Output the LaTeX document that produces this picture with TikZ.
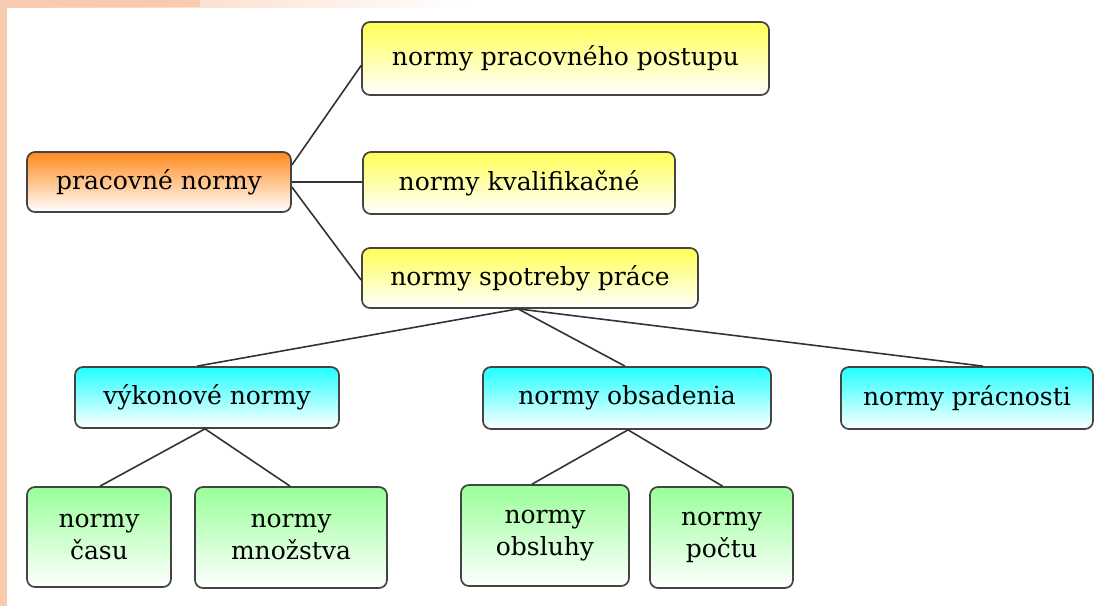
\documentclass[tikz,border=0pt]{standalone}
\usepackage{fontspec}
\setmainfont{DejaVu Serif}
\usetikzlibrary{calc}
\definecolor{peach}{HTML}{F8CBAE}
\definecolor{cOrange}{HTML}{FF8A1C}
\definecolor{cYellow}{HTML}{FFFF55}
\definecolor{cCyan}{HTML}{22FFFF}
\definecolor{cGreen}{HTML}{99FF99}
\definecolor{edge}{HTML}{444444}
\tikzset{
  box/.style={rectangle, rounded corners=8pt, draw=edge, line width=1.7pt,
    bottom color=white, inner sep=0pt, align=center,
    font=\fontsize{25}{32}\selectfont},
  orangebox/.style={box, top color=cOrange},
  yellowbox/.style={box, top color=cYellow},
  cyanbox/.style={box, top color=cCyan},
  greenbox/.style={box, top color=cGreen},
  link/.style={draw=black!80, line width=1.6pt}
}
\begin{document}
\begin{tikzpicture}[x=1pt,y=-1pt]
\useasboundingbox (0,0) rectangle (1095,606);
% background frame
\fill[peach] (0,0) rectangle (7,606);
\shade[left color=peach, right color=white] (0,0) rectangle (470,7);
\fill[peach] (0,0) rectangle (200,7);

\node[orangebox, minimum width=264pt, minimum height=60pt] (pn) at (159,182) {pracovné normy};
\node[yellowbox, minimum width=407pt, minimum height=73pt] (pp) at (565.5,58.5) {normy pracovného postupu};
\node[yellowbox, minimum width=312pt, minimum height=62pt] (kv) at (519,183) {normy kvalifikačné};
\node[yellowbox, minimum width=336pt, minimum height=60pt] (sp) at (530,278) {normy spotreby práce};

\node[cyanbox, minimum width=264pt, minimum height=61pt] (vk) at (207,397.5) {výkonové normy};
\node[cyanbox, minimum width=288pt, minimum height=62pt] (ob) at (627,398) {normy obsadenia};
\node[cyanbox, minimum width=252pt, minimum height=62pt] (pr) at (967,398) {normy prácnosti};

\node[greenbox, minimum width=144pt, minimum height=100pt] (cas) at (99,537) {normy\\času};
\node[greenbox, minimum width=192pt, minimum height=101pt] (mn) at (291,537.5) {normy\\množstva};
\node[greenbox, minimum width=168pt, minimum height=101pt] (os) at (545,535.5) {normy\\obsluhy};
\node[greenbox, minimum width=143pt, minimum height=101pt] (po) at (721.5,537.5) {normy\\počtu};

% connectors
\draw[link] ([yshift=17pt]pn.east) -- ([yshift=-7pt]pp.west);
\draw[link] (pn.east) -- (pn.east -| kv.west);
\draw[link] ([yshift=-5pt]pn.east) -- ([yshift=-2pt]sp.west);

\coordinate (spb) at ([xshift=-12pt]sp.south);
\draw[link] (spb) -- ([xshift=-10pt]vk.north);
\draw[link] (spb) -- ([xshift=-2pt]ob.north);
\draw[link] (spb) -- ([xshift=16pt]pr.north);

\draw[link] ([xshift=-2pt]vk.south) -- ([xshift=1pt]cas.north);
\draw[link] ([xshift=-2pt]vk.south) -- ([xshift=-1pt]mn.north);
\draw[link] ([xshift=1pt]ob.south) -- ([xshift=-13pt]os.north);
\draw[link] ([xshift=1pt]ob.south) -- ([xshift=1pt]po.north);
\end{tikzpicture}
\end{document}
